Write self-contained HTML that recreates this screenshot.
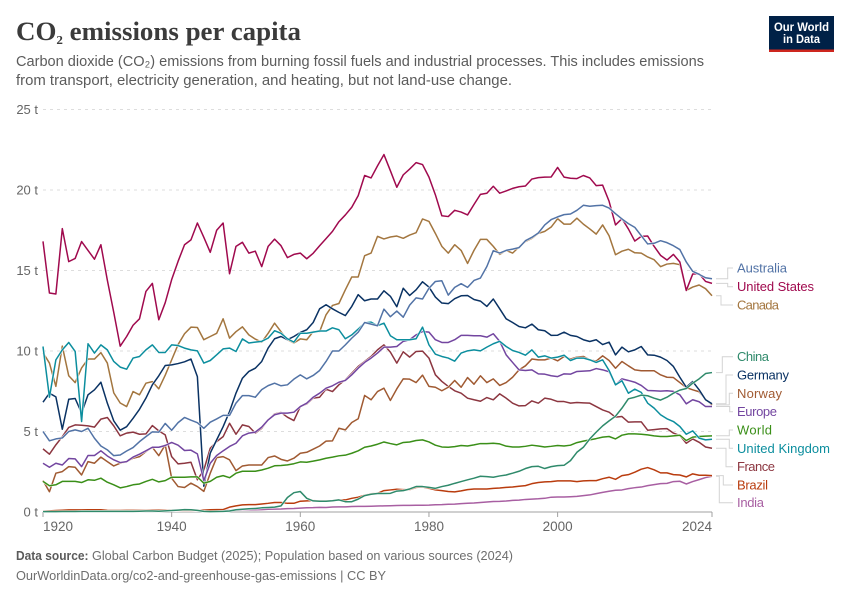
<!DOCTYPE html>
<html lang="en">
<head>
<meta charset="utf-8">
<title>CO₂ emissions per capita</title>
<style>
  html, body { margin: 0; padding: 0; background: #fff; }
  svg { display: block; font-family: "Liberation Sans", sans-serif; }
</style>
</head>
<body>
<svg id="chart" xmlns="http://www.w3.org/2000/svg" width="850" height="600" viewBox="0 0 850 600">
  <text x="16" y="40" font-family="'Liberation Serif', serif" font-weight="700" font-size="26" fill="#3b3b3b" textLength="285" lengthAdjust="spacingAndGlyphs">CO<tspan font-size="21">₂</tspan> emissions per capita</text>
  <text x="16" y="66" font-size="15" fill="#5b5b5b" textLength="688" lengthAdjust="spacingAndGlyphs">Carbon dioxide (CO₂) emissions from burning fossil fuels and industrial processes. This includes emissions</text>
  <text x="16" y="85" font-size="15" fill="#5b5b5b" textLength="496" lengthAdjust="spacingAndGlyphs">from transport, electricity generation, and heating, but not land-use change.</text>

  <g>
    <rect x="769" y="16" width="65" height="36" fill="#002147"/>
    <rect x="769" y="49.5" width="65" height="2.5" fill="#ce261e"/>
    <text x="774" y="31" font-size="12" font-weight="700" fill="#fff" textLength="55" lengthAdjust="spacingAndGlyphs">Our World</text>
    <text x="783" y="43" font-size="12" font-weight="700" fill="#fff" textLength="37" lengthAdjust="spacingAndGlyphs">in Data</text>
  </g>

  <g id="grid"></g>
  <g id="xaxis"></g>
  <g id="connectors"></g>
  <g id="lines"></g>
  <g id="legend"></g>

  <text x="16" y="560" font-size="13" font-weight="700" fill="#5b5b5b" textLength="72.5" lengthAdjust="spacingAndGlyphs">Data source:</text>
  <text x="92" y="560" font-size="13" fill="#6e6e6e" textLength="421" lengthAdjust="spacingAndGlyphs">Global Carbon Budget (2025); Population based on various sources (2024)</text>
  <text x="16" y="580" font-size="13" fill="#6e6e6e" textLength="370" lengthAdjust="spacingAndGlyphs">OurWorldinData.org/co2-and-greenhouse-gas-emissions | CC BY</text>
</svg>

<script>
const years = [
  1920,1921,1922,1923,1924,1925,1926,1927,1928,1929,
  1930,1931,1932,1933,1934,1935,1936,1937,1938,1939,
  1940,1941,1942,1943,1944,1945,1946,1947,1948,1949,
  1950,1951,1952,1953,1954,1955,1956,1957,1958,1959,
  1960,1961,1962,1963,1964,1965,1966,1967,1968,1969,
  1970,1971,1972,1973,1974,1975,1976,1977,1978,1979,
  1980,1981,1982,1983,1984,1985,1986,1987,1988,1989,
  1990,1991,1992,1993,1994,1995,1996,1997,1998,1999,
  2000,2001,2002,2003,2004,2005,2006,2007,2008,2009,
  2010,2011,2012,2013,2014,2015,2016,2017,2018,2019,
  2020,2021,2022,2023,2024
];
const xTickYears = [1920, 1940, 1960, 1980, 2000, 2024];
const yTickValues = [0, 5, 10, 15, 20, 25];

const unitedStates = [
  16.81,13.6,13.54,17.6,15.55,15.75,16.8,16.25,15.7,16.6,
  14.4,12.4,10.3,10.9,11.6,12.0,13.7,14.2,11.94,13.0,
  14.43,15.57,16.6,16.9,17.95,17.06,16.13,17.5,17.95,14.8,
  16.5,16.75,16.08,16.2,15.24,16.5,16.95,16.54,15.8,16.0,
  16.08,15.73,16.07,16.54,16.98,17.43,18.03,18.45,18.93,19.65,
  20.9,20.75,21.5,22.2,21.2,20.17,20.94,21.3,21.7,21.58,
  20.8,19.7,18.4,18.35,18.74,18.63,18.45,19.1,19.73,19.8,
  20.23,19.8,19.94,20.1,20.2,20.25,20.68,20.77,20.8,20.81,
  21.4,20.8,20.73,20.71,20.9,20.75,20.27,20.3,19.3,17.83,
  18.22,17.58,16.83,17.12,17.14,16.5,15.94,15.65,16.0,15.53,
  13.76,14.78,14.8,14.32,14.2
];
const canada = [
  9.9,9.25,7.8,10.3,8.46,8.04,8.95,9.5,9.5,9.9,
  9.25,7.4,6.77,6.55,7.48,7.28,8.0,8.1,7.65,8.5,
  9.45,10.4,11.07,11.48,11.46,10.7,10.9,11.1,12.0,10.8,
  11.2,11.5,11.0,10.74,10.55,11.1,11.73,11.2,10.7,10.5,
  10.75,10.7,11.2,11.2,12.25,12.83,12.95,13.8,14.6,14.6,
  15.92,16.08,17.12,16.96,17.08,17.14,17.0,17.2,17.35,18.2,
  18.05,17.3,16.5,16.08,16.6,16.25,15.44,16.25,16.93,16.93,
  16.5,16.0,16.25,16.08,16.46,16.8,17.0,17.3,17.43,17.7,
  18.22,17.88,17.88,18.25,17.88,17.58,17.26,17.83,17.16,15.98,
  16.2,16.32,16.1,16.08,15.84,15.67,15.24,15.4,15.44,15.36,
  13.76,13.97,14.1,13.87,13.43
];
const australia = [
  5.0,4.42,4.54,4.6,5.0,5.1,5.0,5.2,4.58,4.1,
  3.86,3.5,3.54,3.79,4.0,4.37,4.68,4.98,4.96,5.5,
  5.08,5.55,5.87,5.7,5.55,5.2,5.58,5.78,6.0,6.0,
  6.76,7.23,7.23,7.13,7.6,7.85,8.0,7.84,7.9,8.25,
  8.52,8.27,8.48,8.79,9.35,10.0,10.0,10.38,10.8,11.17,
  11.77,11.67,11.57,12.6,12.13,12.48,12.1,12.85,13.3,13.23,
  13.9,14.32,14.36,13.47,13.95,14.18,13.95,14.38,14.53,15.25,
  16.23,16.08,16.25,16.33,16.42,16.85,17.06,17.33,17.83,18.16,
  18.33,18.47,18.51,18.74,19.05,18.99,19.03,19.05,18.88,18.53,
  18.2,17.91,17.68,17.16,16.65,16.69,16.85,16.73,16.54,16.3,
  15.53,14.95,14.76,14.55,14.49
];
const germany = [
  6.82,7.38,7.15,5.14,7.0,7.05,6.15,7.28,7.59,8.06,
  6.76,5.66,5.08,5.3,5.82,6.38,7.07,7.9,8.46,9.1,
  9.14,9.22,9.33,9.5,8.41,1.6,3.66,4.48,5.3,6.24,
  7.38,8.31,8.73,8.93,9.35,10.18,10.76,10.9,10.7,10.9,
  11.15,11.32,11.77,12.62,12.87,12.62,12.4,12.2,12.77,13.5,
  13.12,13.23,13.23,13.74,13.4,12.75,13.9,13.45,13.8,14.3,
  13.97,13.35,12.98,12.94,13.25,13.43,13.45,13.2,13.1,12.77,
  13.23,12.62,12.0,11.77,11.52,11.44,11.67,11.32,11.26,10.97,
  10.98,11.17,10.97,10.9,10.7,10.59,10.7,10.4,10.55,9.76,
  10.24,9.95,10.07,10.28,9.76,9.74,9.62,9.41,9.04,8.37,
  7.75,8.1,7.59,6.97,6.72
];
const unitedKingdom = [
  10.28,7.13,9.45,10.07,10.53,9.97,5.62,10.45,9.87,10.38,
  10.07,9.35,9.0,8.87,9.56,9.66,10.07,10.38,9.91,9.91,
  10.38,10.34,10.18,10.07,10.01,9.25,9.41,9.76,10.13,10.18,
  9.97,10.75,10.5,10.55,10.6,10.8,11.26,11.1,10.76,10.55,
  11.1,11.1,11.17,11.24,11.24,11.44,11.32,10.76,11.0,11.36,
  11.75,11.79,11.57,11.73,10.95,10.7,10.7,10.7,10.76,11.48,
  10.38,9.8,9.66,9.56,9.37,9.87,10.01,10.07,10.01,10.24,
  10.45,10.6,10.28,10.03,9.91,9.74,10.07,9.62,9.7,9.56,
  9.62,9.74,9.41,9.56,9.56,9.45,9.29,9.45,8.79,7.9,
  8.15,7.38,7.63,7.43,6.76,6.45,6.04,5.79,5.62,5.31,
  4.83,5.04,4.59,4.48,4.52
];
const norway = [
  1.95,1.26,2.41,2.51,2.82,2.78,2.3,3.13,3.03,3.41,
  3.13,2.86,3.03,3.13,3.34,3.44,3.75,4.02,3.5,4.17,
  2.1,1.58,1.52,1.79,1.58,1.28,2.41,3.38,3.44,3.24,
  2.57,2.86,2.92,2.92,2.92,3.38,3.48,3.27,3.17,3.34,
  3.65,3.71,3.9,4.1,4.4,4.42,5.2,5.1,5.56,5.79,
  7.24,6.97,7.48,7.69,6.93,7.65,8.27,8.25,8.04,8.5,
  7.8,7.75,7.53,7.75,8.17,7.75,8.35,7.94,8.46,8.04,
  8.27,7.86,8.04,8.37,8.83,9.08,9.5,9.45,9.45,9.56,
  9.39,9.66,9.5,9.62,9.66,9.45,9.37,9.7,9.41,8.93,
  9.35,9.08,8.83,8.77,8.77,8.77,8.52,8.37,8.35,8.04,
  7.73,7.59,7.47,7.0,6.65
];
const france = [
  3.92,3.59,4.17,4.68,5.25,5.41,5.39,5.35,5.27,5.77,
  5.87,5.35,4.73,4.9,4.96,4.83,4.85,5.37,5.04,4.79,
  3.44,2.99,3.03,3.09,2.0,2.61,3.96,4.37,4.68,5.51,
  4.83,5.41,5.31,4.9,5.2,5.72,6.09,6.18,5.89,5.68,
  6.55,6.71,7.07,7.13,7.63,7.48,7.9,8.21,8.62,9.04,
  9.35,9.66,10.07,10.38,9.93,9.25,9.95,9.62,9.97,9.99,
  9.56,8.52,8.11,7.8,7.53,7.38,7.07,6.97,6.88,7.11,
  6.97,7.34,7.07,6.76,6.59,6.61,6.9,6.76,7.07,7.0,
  6.86,6.86,6.76,6.8,6.78,6.76,6.55,6.34,6.2,5.89,
  5.93,5.58,5.6,5.6,5.08,5.12,5.16,5.18,4.9,4.75,
  4.27,4.54,4.33,4.04,3.96
];
const europe = [
  3.03,2.78,3.03,2.92,3.32,3.3,2.82,3.51,3.51,3.8,
  3.48,3.24,3.07,3.13,3.41,3.59,3.8,4.02,4.02,4.13,
  4.32,4.15,3.82,3.84,3.61,1.95,3.03,3.51,3.8,4.07,
  4.27,4.73,4.9,4.96,5.27,5.72,6.04,6.14,6.14,6.2,
  6.55,6.76,7.13,7.38,7.69,7.84,8.06,8.17,8.52,8.93,
  9.29,9.56,9.87,10.24,10.24,10.28,10.6,10.7,11.0,11.21,
  11.17,10.7,10.53,10.53,10.7,10.97,10.97,10.95,10.95,10.86,
  11.07,10.6,9.76,9.29,8.83,8.79,8.83,8.58,8.56,8.46,
  8.41,8.58,8.56,8.73,8.75,8.77,8.91,8.83,8.71,7.9,
  8.27,8.17,8.06,7.86,7.55,7.53,7.51,7.53,7.49,7.28,
  6.72,6.97,6.85,6.55,6.55
];
const world = [
  1.9,1.63,1.69,1.9,1.9,1.9,1.83,2.0,1.97,2.1,
  1.85,1.69,1.5,1.58,1.69,1.74,1.9,2.03,1.87,1.95,
  2.16,2.16,2.16,2.18,2.18,1.79,1.9,2.16,2.26,2.13,
  2.41,2.53,2.53,2.53,2.61,2.72,2.87,2.89,2.93,3.0,
  3.11,3.09,3.16,3.24,3.34,3.41,3.49,3.53,3.65,3.8,
  4.02,4.1,4.21,4.35,4.25,4.17,4.32,4.35,4.44,4.48,
  4.35,4.15,4.04,4.02,4.06,4.13,4.1,4.17,4.25,4.25,
  4.27,4.23,4.09,4.04,4.04,4.08,4.15,4.1,4.04,4.08,
  4.13,4.1,4.15,4.31,4.4,4.48,4.56,4.65,4.69,4.54,
  4.77,4.85,4.85,4.83,4.79,4.73,4.69,4.69,4.73,4.77,
  4.44,4.65,4.69,4.71,4.73
];
const china = [
  0.02,0.02,0.02,0.03,0.03,0.03,0.04,0.04,0.04,0.04,
  0.04,0.04,0.04,0.04,0.04,0.05,0.06,0.06,0.05,0.07,
  0.09,0.12,0.15,0.14,0.1,0.04,0.02,0.03,0.04,0.06,
  0.14,0.17,0.2,0.22,0.26,0.28,0.3,0.38,0.9,1.2,
  1.27,0.85,0.69,0.67,0.67,0.7,0.75,0.64,0.64,0.8,
  1.02,1.1,1.15,1.15,1.16,1.3,1.33,1.43,1.58,1.58,
  1.53,1.47,1.58,1.66,1.78,1.89,2.0,2.1,2.22,2.2,
  2.16,2.24,2.3,2.41,2.53,2.7,2.82,2.84,2.7,2.82,
  2.88,2.9,3.19,3.71,4.02,4.54,4.96,5.35,5.66,5.95,
  6.45,7.03,7.13,7.26,7.22,7.07,6.95,7.13,7.38,7.57,
  7.67,8.0,8.27,8.6,8.66
];
const brazil = [
  0.05,0.07,0.09,0.11,0.13,0.13,0.13,0.14,0.14,0.14,
  0.1,0.09,0.09,0.1,0.1,0.1,0.1,0.12,0.12,0.12,
  0.11,0.1,0.1,0.1,0.1,0.12,0.14,0.15,0.15,0.3,
  0.38,0.44,0.46,0.46,0.5,0.54,0.59,0.59,0.54,0.54,
  0.67,0.69,0.71,0.69,0.69,0.71,0.75,0.75,0.85,0.92,
  1.04,1.13,1.16,1.33,1.37,1.41,1.39,1.39,1.53,1.55,
  1.47,1.37,1.33,1.27,1.25,1.31,1.39,1.43,1.43,1.43,
  1.47,1.49,1.53,1.55,1.6,1.64,1.76,1.83,1.87,1.89,
  1.93,1.93,1.93,1.89,1.93,1.95,1.95,2.07,2.16,2.03,
  2.26,2.32,2.47,2.66,2.76,2.62,2.43,2.43,2.32,2.3,
  2.18,2.37,2.28,2.28,2.26
];
const india = [
  0.06,0.06,0.06,0.06,0.06,0.06,0.07,0.07,0.07,0.07,
  0.07,0.07,0.07,0.07,0.07,0.07,0.08,0.08,0.08,0.08,
  0.08,0.08,0.08,0.08,0.08,0.08,0.08,0.09,0.09,0.1,
  0.12,0.13,0.14,0.14,0.15,0.17,0.18,0.19,0.21,0.22,
  0.24,0.26,0.27,0.29,0.28,0.31,0.32,0.32,0.34,0.35,
  0.35,0.36,0.37,0.38,0.39,0.4,0.41,0.41,0.42,0.42,
  0.43,0.45,0.46,0.48,0.49,0.52,0.54,0.56,0.59,0.62,
  0.65,0.66,0.68,0.72,0.74,0.78,0.8,0.82,0.85,0.92,
  0.93,0.93,0.95,0.97,1.02,1.06,1.14,1.22,1.29,1.35,
  1.37,1.45,1.51,1.55,1.64,1.7,1.76,1.78,1.89,1.91,
  1.74,1.89,2.01,2.14,2.22
];

const seriesNames = ["India","Brazil","France","Norway","Canada","Germany","Europe","World","United Kingdom","China","United States","Australia"];
const seriesValues = [india,brazil,france,norway,canada,germany,europe,world,unitedKingdom,china,unitedStates,australia];

const SVGNS = "http://www.w3.org/2000/svg";
const COLORS = {"India":"#A85FA2","Brazil":"#B93C0E","France":"#8C3640","Norway":"#A05A32","Canada":"#A3763F","Germany":"#0A3263","Europe":"#7346A0","World":"#3A8F18","United Kingdom":"#0C8E9E","China":"#2F8A6B","United States":"#A00A4E","Australia":"#5273A6"};
const LABEL_LAYOUT = {
  "Australia":{y:268,mid:727.7,w:50},
  "United States":{y:286.7,mid:727.7,w:77},
  "Canada":{y:305,mid:721,w:42},
  "China":{y:356.7,mid:722.3,w:32},
  "Germany":{y:375,mid:726,w:52},
  "Norway":{y:393.3,mid:729.3,w:45},
  "Europe":{y:411.7,mid:729.7,w:40},
  "World":{y:430,mid:729.3,w:35},
  "United Kingdom":{y:448.3,mid:729.3,w:93},
  "France":{y:466.7,mid:726,w:38},
  "Brazil":{y:485,mid:723.3,w:31},
  "India":{y:502.7,mid:719.3,w:27}
};

function xScale(year) { return 43 + (year - 1920) * (712 - 43) / (2024 - 1920); }
function yScale(v) { return 512 - v * (512 - 109.5) / 25; }
function kebab(s) { return s.toLowerCase().replace(/\s+/g, "-"); }
function mk(tag, attrs, parent) {
  const el = document.createElementNS(SVGNS, tag);
  for (const k in attrs) el.setAttribute(k, attrs[k]);
  parent.appendChild(el);
  return el;
}

const grid = document.getElementById("grid");
const xaxis = document.getElementById("xaxis");
const connectors = document.getElementById("connectors");
const linesG = document.getElementById("lines");
const legend = document.getElementById("legend");

yTickValues.forEach(function (t) {
  const y = yScale(t);
  if (t !== 0) {
    const gl = mk("line", {x1:43, x2:712, y1:y, y2:y, stroke:"#dddddd", "stroke-width":1, "stroke-dasharray":"3,4"}, grid);
    
    
  }
  const lb = mk("text", {x:38, y:y + 4.5, "text-anchor":"end", "font-size":13, fill:"#666666"}, grid);
  lb.textContent = t + " t";
  
  
});

const axisLine = mk("line", {x1:43, x2:712, y1:512, y2:512, stroke:"#a1a1a1", "stroke-width":1}, xaxis);



xTickYears.forEach(function (yr, i) {
  const x = xScale(yr);
  const tk = mk("line", {x1:x, x2:x, y1:512, y2:517, stroke:"#a1a1a1", "stroke-width":1}, xaxis);
  
  
  const anchor = i === 0 ? "start" : (i === xTickYears.length - 1 ? "end" : "middle");
  const lb = mk("text", {x:x, y:531, "text-anchor":anchor, "font-size":13.5, fill:"#666666"}, xaxis);
  lb.textContent = String(yr);
  
  
});

seriesNames.forEach(function (name, idx) {
  const values = seriesValues[idx];
  const color = COLORS[name];
  const d = values.map(function (v, i) {
    return (i ? "L" : "M") + xScale(years[i]).toFixed(2) + " " + yScale(v).toFixed(2);
  }).join(" ");

  const halo = mk("path", {d:d, fill:"none", stroke:"#ffffff", "stroke-width":2.6, "stroke-linejoin":"round", "stroke-opacity":0.85}, linesG);
  
  

  const line = mk("path", {d:d, fill:"none", stroke:color, "stroke-width":1.5, "stroke-linejoin":"round"}, linesG);
  
  

  const layout = LABEL_LAYOUT[name];
  const endY = yScale(values[values.length - 1]);
  const conn = mk("path", {d:"M716 " + endY.toFixed(1) + " H" + layout.mid + " V" + layout.y + " H733", fill:"none", stroke:"#d4d4d4", "stroke-width":1}, connectors);
  
  

  const lb = mk("text", {x:737, y:layout.y + 4.5, "font-size":13, fill:color, textLength:layout.w, lengthAdjust:"spacing"}, legend);
  lb.textContent = name;
  
  
});
</script>
</body>
</html>
